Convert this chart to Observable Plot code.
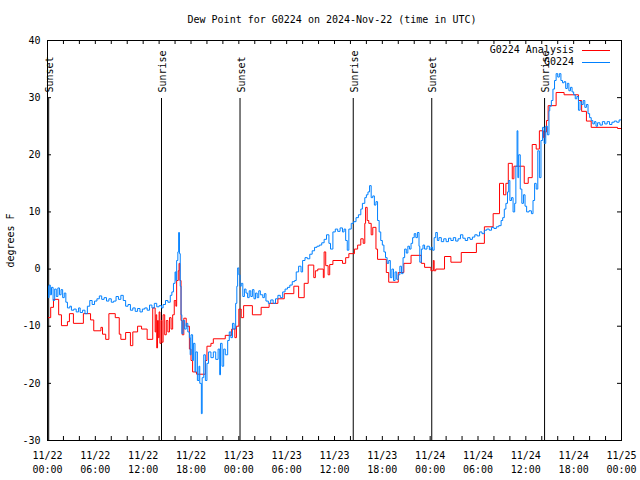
<!DOCTYPE html>
<html><head><meta charset="utf-8">
<script src="https://cdn.jsdelivr.net/npm/d3@7"></script>
<script src="https://cdn.jsdelivr.net/npm/@observablehq/plot@0.6"></script>
<style>
body{margin:0;background:#fff;}
#wrap{position:relative;width:640px;height:480px;font-family:"DejaVu Sans Mono",monospace;font-size:10px;color:#000}
#title{position:absolute;top:14px;left:44px;width:576px;text-align:center;white-space:pre;line-height:12px}
.leg{position:absolute;left:400px;width:174px;height:12px;line-height:12px;text-align:right;white-space:pre}
.sw{position:absolute;left:582px;width:28px;height:0;border-top:1px solid}
</style></head><body>
<div id="wrap">
  <div id="chart"></div>
  <div id="title"></div>
  <div class="leg" id="leg0" style="top:44px"></div>
  <div class="sw" id="sw0" style="top:50px"></div>
  <div class="leg" id="leg1" style="top:56px"></div>
  <div class="sw" id="sw1" style="top:62px"></div>
</div>
<script>
const titleText = "Dew Point for G0224 on 2024-Nov-22 (time in UTC)";
const yLabel = "degrees F";
const seriesNames = ["G0224 Analysis", "G0224"];
const seriesColors = ["#ff0000", "#0080ff"];
const yTicks = [-30, -20, -10, 0, 10, 20, 30, 40];
const xTickHours = [0, 6, 12, 18, 24, 30, 36, 42, 48, 54, 60, 66, 72];
const xTickLabels = ["11/22\n00:00","11/22\n06:00","11/22\n12:00","11/22\n18:00","11/23\n00:00","11/23\n06:00","11/23\n12:00","11/23\n18:00","11/24\n00:00","11/24\n06:00","11/24\n12:00","11/24\n18:00","11/25\n00:00"];
const xMinorHours = d3.range(0, 73, 2);
const sunsetHours = [0.15, 24.15, 48.2];
const sunriseHours = [14.3, 38.35, 62.35];

// [hours since 2024-11-22 00:00 UTC, dew point F]
const analysis = [
[0,-8.5],[0.4,-6.7],[0.75,-5.3],[1.4,-8],[1.75,-9.9],[2.5,-9.2],[2.75,-7.8],[3.25,-9.5],[4.5,-7.8],[5.4,-8.9],
[5.8,-10.8],[6.7,-10.2],[6.9,-11.4],[7.3,-12.3],[7.7,-7.8],[8.5,-8.5],[9.0,-11.4],[9.2,-12.3],[9.8,-11.1],[10.4,-13.4],
[10.7,-11],[11.3,-10],[11.8,-10.5],[12.5,-12.3],[13.2,-6.8],[13.5,-11],[13.6,-8],[13.7,-13.8],[13.8,-9],[13.9,-12],
[14.0,-7.5],[14.1,-13],[14.25,-9],[14.35,-12.8],[14.5,-8],[14.7,-11.5],[14.9,-9],[15.1,-11],[15.3,-8.5],[15.5,-10.5],
[15.7,-8],[15.9,-5.5],[16.1,-6.5],[16.2,-2],[16.4,-0.3],[16.5,1.0],[16.6,-2],[16.75,-9],[16.9,-11.5],[17.1,-8.6],
[17.4,-10],[17.8,-14],[18.0,-16],[18.2,-18],[18.7,-18.4],[19.8,-16],[20.0,-13.5],[20.5,-13],[20.8,-12.2],[22.3,-11.6],
[23.1,-10.5],[23.5,-12],[23.7,-10],[24.0,-7],[24.3,-8.5],[24.6,-6.4],[25.7,-8],[26.8,-6.7],[27.8,-6],[28.9,-5.2],
[29.7,-4.3],[30.9,-3],[31.5,-5],[32.2,-2.5],[32.7,0.7],[33.4,-1.5],[33.6,-0.3],[33.9,0],[34.6,-1.5],[34.7,3],
[34.9,0.6],[35.2,-1],[35.4,0.8],[35.8,1.5],[37.0,1.0],[37.4,2.0],[37.8,2.7],[38.5,3.5],[38.9,4.2],[39.3,5.3],
[39.6,4.5],[39.8,8],[39.9,10.8],[40.1,8.5],[40.3,8],[40.6,6],[40.8,7.3],[41.2,3.5],[41.4,1.7],[42.5,-0.6],
[42.8,-2.3],[44.0,-0.6],[44.7,1],[45.6,2.4],[46.9,1],[47.3,0.3],[48.1,-0.3],[48.4,1.5],[48.5,-0.3],[48.7,0],
[49.8,2.2],[50.6,1.2],[51.9,2.9],[53.8,4.5],[54.8,7.4],[55.9,9.7],[56.7,15],[57.2,13],[57.5,15],[57.8,18.5],
[58.3,15.8],[58.5,18],[59.8,15],[60.3,16],[60.8,21.8],[61.3,21],[61.7,24.2],[62.2,23],[62.4,24],[62.6,26],
[62.8,28.6],[63.8,30.9],[64.8,30.5],[66.6,29.5],[67.0,27.6],[67.6,25.9],[68.2,24.8],[71.5,24.6],[72,24.6]
];

const observed = [
[0,-3],[0.1,-5],[0.2,-2.8],[0.35,-4.5],[0.5,-3.2],[0.7,-5.5],[0.9,-3.5],[1.1,-4.8],[1.3,-3.3],[1.5,-4.5],
[1.7,-3.6],[1.9,-5],[2.1,-4.2],[2.3,-5.8],[2.5,-6.8],[2.8,-6.5],[3.0,-7.2],[3.3,-7],[3.6,-7.5],[3.9,-6.8],
[4.1,-7.6],[4.4,-7.2],[4.7,-7.8],[5.0,-6.5],[5.3,-5.5],[5.6,-6.2],[5.9,-5.6],[6.2,-5.2],[6.5,-4.7],[6.8,-5.3],
[7.1,-5.0],[7.4,-5.6],[7.7,-5.2],[8.0,-5.8],[8.3,-5.6],[8.6,-4.8],[8.9,-5.3],[9.2,-4.6],[9.5,-5.5],[9.8,-6.5],
[10.1,-6.2],[10.4,-7.2],[10.7,-6.8],[11.0,-7.4],[11.3,-6.9],[11.6,-7.5],[11.9,-7.0],[12.2,-6.8],[12.5,-7.2],[12.8,-6.3],
[13.1,-6.8],[13.4,-6.0],[13.7,-6.6],[14.0,-6.4],[14.3,-6.8],[14.5,-6.2],[14.8,-5.5],[15.1,-5.8],[15.4,-4.6],[15.6,-4.0],
[15.8,-2.5],[16.0,-0.5],[16.1,-2],[16.2,1.5],[16.35,3],[16.45,6.4],[16.55,2.7],[16.65,-3],[16.75,-8],[16.85,-11.3],
[17.0,-9],[17.2,-10.5],[17.4,-9.5],[17.6,-11],[17.8,-12],[17.9,-15],[18.0,-11.5],[18.2,-16],[18.3,-13],[18.5,-18],
[18.6,-14.5],[18.8,-19.5],[19.0,-17],[19.1,-20],[19.3,-25.3],[19.4,-19],[19.6,-15],[19.8,-19.5],[20.0,-16.5],[20.2,-14.5],
[20.5,-15.5],[20.8,-14.5],[21.1,-15.8],[21.4,-14],[21.6,-18.5],[21.7,-13],[21.9,-17],[22.1,-14],[22.3,-15],[22.6,-12.5],
[22.8,-11],[23.0,-12],[23.2,-9.5],[23.4,-10.5],[23.6,-6],[23.75,-3],[23.85,0.2],[24.0,-1],[24.15,-3],[24.3,-2.5],
[24.5,-4.8],[24.7,-3.5],[24.9,-4.2],[25.1,-5.0],[25.3,-3.8],[25.5,-4.8],[25.7,-3.6],[25.9,-5.2],[26.1,-4.2],[26.3,-5.0],
[26.5,-3.8],[26.7,-4.5],[27.0,-5.0],[27.2,-4.3],[27.4,-5.6],[27.7,-6.0],[28.0,-5.4],[28.3,-6.0],[28.6,-5.2],[28.9,-4.6],
[29.2,-5.0],[29.5,-4.0],[29.8,-3.5],[30.1,-3.2],[30.4,-2.8],[30.7,-2.2],[31.0,-2.0],[31.2,-0.5],[31.5,0.5],[31.8,-0.5],
[32.0,1.5],[32.3,2.0],[32.6,1.8],[32.9,2.6],[33.2,3.2],[33.5,3.8],[33.8,4.0],[34.1,4.2],[34.4,4.6],[34.7,5.2],
[35.0,6.0],[35.3,4.5],[35.5,3.5],[35.8,6.5],[36.1,7.0],[36.4,6.6],[36.7,7.2],[37.0,6.5],[37.2,7.0],[37.4,5.0],
[37.6,3.3],[37.8,7.0],[38.1,8.0],[38.4,8.3],[38.7,9.0],[39.0,9.5],[39.3,10.5],[39.5,11.5],[39.8,12.5],[40.0,13.0],
[40.2,13.5],[40.4,14.6],[40.6,12.5],[40.8,12.8],[41.0,11.2],[41.2,11.8],[41.4,8.5],[41.6,6.5],[41.8,5.0],[42.0,4.2],
[42.2,3.0],[42.4,2.0],[42.6,1.0],[42.8,1.5],[43.0,-1.5],[43.2,0],[43.4,-2],[43.6,-0.5],[43.8,-1.8],[44.0,-1.0],
[44.2,0.5],[44.4,-0.8],[44.6,2.0],[44.8,3.5],[45.0,2.8],[45.2,4.0],[45.4,3.5],[45.6,4.5],[45.8,5.5],[46.0,6.2],
[46.2,5.5],[46.4,6.4],[46.6,4.0],[46.7,1.2],[46.9,3.5],[47.1,4.2],[47.3,3.5],[47.6,4.0],[47.9,3.4],[48.1,3.8],
[48.3,3.3],[48.5,5.5],[48.7,6.4],[48.9,5.0],[49.1,5.5],[49.4,4.8],[49.7,5.3],[50.0,4.8],[50.3,5.4],[50.6,5.0],
[50.9,5.5],[51.2,4.9],[51.5,5.3],[51.8,6.0],[52.1,5.4],[52.4,5.0],[52.7,5.5],[53.0,5.2],[53.3,5.6],[53.6,6.0],
[53.9,5.8],[54.2,6.5],[54.5,6.2],[54.8,6.8],[55.1,7.0],[55.4,6.8],[55.7,7.3],[56.0,7.1],[56.3,7.4],[56.6,7.6],
[56.9,8.5],[57.1,9.0],[57.3,10.5],[57.5,11.5],[57.7,13.5],[57.85,15.5],[58.0,12.0],[58.2,12.5],[58.4,10.0],[58.6,11.5],
[58.75,18.0],[58.9,24.2],[59.0,16.0],[59.1,20.0],[59.3,14.0],[59.5,11.5],[59.7,13.0],[59.9,11.0],[60.1,10.0],[60.4,10.2],
[60.7,9.7],[60.9,12.0],[61.1,15.0],[61.3,14.0],[61.5,20.7],[61.7,16.0],[61.9,22.5],[62.1,24.8],[62.3,22.0],[62.5,25.0],
[62.7,23.5],[62.9,27.7],[63.0,28.5],[63.2,29.5],[63.4,31.5],[63.6,33.0],[63.8,34.2],[64.0,33.6],[64.2,34.2],[64.4,33.0],
[64.6,32.6],[64.8,32.8],[65.0,31.6],[65.2,32.5],[65.4,31.2],[65.6,31.8],[65.8,31.0],[66.0,30.5],[66.2,29.8],[66.4,30.2],
[66.6,27.8],[66.8,29.3],[67.0,28.8],[67.2,29.5],[67.4,28.3],[67.6,28.8],[67.8,27.2],[68.0,26.5],[68.2,26.0],[68.4,25.4],
[68.6,25.8],[68.8,25.0],[69.0,25.6],[69.3,25.2],[69.6,25.8],[69.9,25.4],[70.2,25.8],[70.5,25.3],[70.8,25.7],[71.1,25.9],
[71.4,25.7],[71.7,26.1],[72.0,26.4]
];

const base = Date.UTC(2024, 10, 22);
const toDate = h => new Date(base + h * 3600e3);
const xDomain = [toDate(xTickHours[0]), toDate(xTickHours[xTickHours.length - 1])];
const yDomain = [yTicks[0], yTicks[yTicks.length - 1]];
const labelByTime = new Map(xTickHours.map((h, i) => [+toDate(h), xTickLabels[i]]));
const sunEvents = [
  ...sunsetHours.map(h => ({h, label: "Sunset"})),
  ...sunriseHours.map(h => ({h, label: "Sunrise"}))
];

document.getElementById("title").textContent = titleText;
document.getElementById("leg0").textContent = seriesNames[0];
document.getElementById("leg1").textContent = seriesNames[1];
document.getElementById("sw0").style.borderColor = seriesColors[0];
document.getElementById("sw1").style.borderColor = seriesColors[1];

const chart = Plot.plot({
  width: 640, height: 480,
  marginLeft: 47, marginRight: 19, marginTop: 40, marginBottom: 40,
  style: {fontFamily: "'DejaVu Sans Mono', monospace", fontSize: "10px", background: "white", color: "black"},
  x: {type: "utc", domain: xDomain},
  y: {domain: yDomain},
  marks: [
    Plot.axisY({ticks: yTicks, tickSize: 0, tickPadding: 7, tickFormat: d => String(d), label: null}),
    Plot.axisX({ticks: xTickHours.map(toDate), tickSize: 0, tickPadding: 9, tickFormat: d => labelByTime.get(+d), label: null, lineHeight: 1.4}),
    Plot.text([yLabel], {text: d => d, frameAnchor: "left", dx: -37, rotate: -90, textAnchor: "middle", lineAnchor: "middle"}),
    Plot.ruleX(xMinorHours, {x: h => toDate(h), y1: yDomain[0], y2: yDomain[0], insetTop: -4, stroke: "black"}),
    Plot.ruleX(xMinorHours, {x: h => toDate(h), y1: yDomain[1], y2: yDomain[1], insetBottom: -4, stroke: "black"}),
    Plot.ruleY(yTicks, {y: d => d, x1: xDomain[0], x2: xDomain[0], insetRight: -4, stroke: "black"}),
    Plot.ruleY(yTicks, {y: d => d, x1: xDomain[1], x2: xDomain[1], insetLeft: -4, stroke: "black"}),
    Plot.ruleX(sunEvents, {x: d => toDate(d.h), insetTop: 58, stroke: "black"}),
    Plot.text(sunEvents, {x: d => toDate(d.h), text: d => d.label, frameAnchor: "top", rotate: -90, textAnchor: "start", lineAnchor: "middle", dy: 52, dx: 1.5}),
    Plot.line(analysis, {x: d => toDate(d[0]), y: d => d[1], stroke: seriesColors[0], strokeWidth: 1, curve: "step-after"}),
    Plot.line(observed, {x: d => toDate(d[0]), y: d => d[1], stroke: seriesColors[1], strokeWidth: 1, curve: "step-after"}),
    Plot.frame({stroke: "black"})
  ]
});
document.getElementById("chart").appendChild(chart);
</script>
</body></html>
